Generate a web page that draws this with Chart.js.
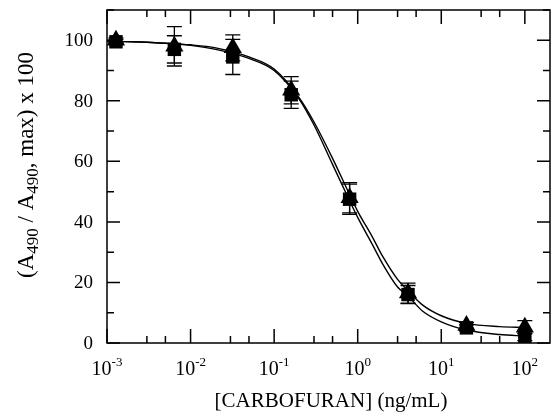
<!DOCTYPE html>
<html>
<head>
<meta charset="utf-8">
<script src="https://cdn.jsdelivr.net/npm/chart.js@4"></script>
<style>
  body { margin: 0; background: #fff; }
  canvas { display: block; }
</style>
</head>
<body>
<canvas id="myChart" width="551" height="417"></canvas>
<script>
// concentrations (ng/mL) of the standards
var doses = [0.00128, 0.0064, 0.032, 0.16, 0.8, 4, 20, 100];
// triangles
var triMean = [100, 98, 97.5, 83.5, 48, 16.5, 5.8, 5.2];
var triErr = [0.8, 6.5, 4.3, 4.5, 5, 3.3, 1, 2.2];
// squares
var sqMean = [99.5, 97, 94.5, 82, 47.5, 16, 5, 2];
var sqErr = [0.8, 4.5, 5.8, 4.5, 5, 3, 1, 1.2];

// fitted curves
var curveX = [0.001, 0.002, 0.005, 0.01, 0.02, 0.05, 0.1, 0.2, 0.3, 0.5, 0.8, 1, 1.5, 2, 3, 4, 6, 10, 20, 50, 100];
var curveTri = [99.7, 99.5, 99, 98.5, 97.5, 94.5, 90.5, 81, 73, 61, 49, 43.5, 35, 28.5, 21, 17.3, 12.5, 9, 6.5, 5.4, 5.1];
var curveSq = [99.7, 99.5, 99, 98.3, 97, 94, 90, 80.5, 72, 59, 47, 41.5, 32.5, 26, 18.5, 15.5, 10.5, 7, 4.3, 2.8, 2.3];

// axis ticks
var xExponents = ['-3', '-2', '-1', '0', '1', '2'];
var yTicks = [0, 20, 40, 60, 80, 100];

var SERIF = '"Liberation Serif", "Times New Roman", serif';

function pts(xs, ys) {
    return xs.map(function(x, i) { return {x: x, y: ys[i]}; });
}

// error bars, under the markers
var errorBars = {
    id: 'errorBars',
    beforeDatasetsDraw: function(chart) {
        var ctx = chart.ctx;
        var xs = chart.scales.x, ys = chart.scales.y;
        ctx.save();
        ctx.strokeStyle = '#000';
        ctx.lineWidth = 1.3;
        [[sqMean, sqErr], [triMean, triErr]].forEach(function(s) {
            doses.forEach(function(d, i) {
                var px = xs.getPixelForValue(d);
                var top = ys.getPixelForValue(s[0][i] + s[1][i]);
                var bot = ys.getPixelForValue(s[0][i] - s[1][i]);
                ctx.beginPath();
                ctx.moveTo(px, top); ctx.lineTo(px, bot);
                ctx.moveTo(px - 7.5, top); ctx.lineTo(px + 7.5, top);
                ctx.moveTo(px - 7.5, bot); ctx.lineTo(px + 7.5, bot);
                ctx.stroke();
            });
        });
        ctx.restore();
    }
};

// frame, inward ticks and labels (exponents need superscripts)
var frame = {
    id: 'frame',
    afterDraw: function(chart) {
        var ctx = chart.ctx;
        var a = chart.chartArea;
        var xs = chart.scales.x, ys = chart.scales.y;
        ctx.save();
        ctx.strokeStyle = '#000';
        ctx.lineWidth = 1.5;
        ctx.strokeRect(a.left, a.top, a.right - a.left, a.bottom - a.top);

        ctx.beginPath();
        // y ticks, left and right
        for (var v = 0; v <= 110; v += 10) {
            var py = ys.getPixelForValue(v);
            var len = (v % 20 === 0) ? 13 : 7;
            ctx.moveTo(a.left, py); ctx.lineTo(a.left + len, py);
            ctx.moveTo(a.right, py); ctx.lineTo(a.right - len, py);
        }
        // x ticks, bottom and top
        for (var e = -3; e <= 2; e++) {
            [1, 3, 5].forEach(function(m) {
                var val = m * Math.pow(10, e);
                if (val > xs.max) return;
                var px = xs.getPixelForValue(val);
                var len = (m === 1) ? 14 : 7;
                ctx.moveTo(px, a.bottom); ctx.lineTo(px, a.bottom - len);
                ctx.moveTo(px, a.top); ctx.lineTo(px, a.top + len);
            });
        }
        ctx.stroke();

        ctx.fillStyle = '#000';
        // y tick labels
        ctx.font = '19px ' + SERIF;
        ctx.textAlign = 'right';
        ctx.textBaseline = 'middle';
        yTicks.forEach(function(t) {
            ctx.fillText(String(t), 93, ys.getPixelForValue(t) + 1);
        });

        // x tick labels: 10 with superscript
        ctx.textAlign = 'left';
        ctx.textBaseline = 'alphabetic';
        xExponents.forEach(function(ex) {
            var px = xs.getPixelForValue(Math.pow(10, parseInt(ex, 10)));
            ctx.font = '20px ' + SERIF;
            var w1 = ctx.measureText('10').width;
            ctx.font = '13px ' + SERIF;
            var w2 = ctx.measureText(ex).width;
            var x0 = px - (w1 + w2) / 2;
            ctx.font = '20px ' + SERIF;
            ctx.fillText('10', x0, 375);
            ctx.font = '13px ' + SERIF;
            ctx.fillText(ex, x0 + w1, 366);
        });

        // x title
        ctx.font = '21px ' + SERIF;
        ctx.textAlign = 'center';
        ctx.fillText('[CARBOFURAN] (ng/mL)', 331, 407);

        // y title, rotated, with subscripts
        var parts = [
            ['(A', 0], ['490', 1], [' / A', 0], ['490', 1], [', max) x 100', 0]
        ];
        ctx.translate(33, 165);
        ctx.rotate(-Math.PI / 2);
        ctx.textAlign = 'left';
        var total = 0;
        parts.forEach(function(p) {
            ctx.font = (p[1] ? '17px ' : '23px ') + SERIF;
            total += ctx.measureText(p[0]).width;
        });
        var cx = -total / 2;
        parts.forEach(function(p) {
            ctx.font = (p[1] ? '17px ' : '23px ') + SERIF;
            ctx.fillText(p[0], cx, p[1] ? 5 : 0);
            cx += ctx.measureText(p[0]).width;
        });
        ctx.restore();
    }
};

var ctx = document.getElementById('myChart').getContext('2d');
var myChart = new Chart(ctx, {
    type: 'scatter',
    data: {
        datasets: [
            {
                data: pts(curveX, curveSq),
                showLine: true,
                pointRadius: 0,
                borderColor: '#000',
                borderWidth: 1.4,
                cubicInterpolationMode: 'monotone'
            },
            {
                data: pts(curveX, curveTri),
                showLine: true,
                pointRadius: 0,
                borderColor: '#000',
                borderWidth: 1.4,
                cubicInterpolationMode: 'monotone'
            },
            {
                data: pts(doses, sqMean),
                pointStyle: 'rect',
                pointRadius: 9.5,
                backgroundColor: '#000',
                borderColor: '#000',
                borderWidth: 0
            },
            {
                data: pts(doses, triMean),
                pointStyle: 'triangle',
                pointRadius: 10.5,
                backgroundColor: '#000',
                borderColor: '#000',
                borderWidth: 0
            }
        ]
    },
    options: {
        responsive: false,
        animation: false,
        layout: { autoPadding: false, padding: { left: 107, right: 1, top: 10, bottom: 74 } },
        plugins: { legend: { display: false }, tooltip: { enabled: false } },
        scales: {
            x: { type: 'logarithmic', min: 0.001, max: 200, display: false },
            y: { min: 0, max: 110, display: false }
        }
    },
    plugins: [errorBars, frame]
});
</script>
</body>
</html>
